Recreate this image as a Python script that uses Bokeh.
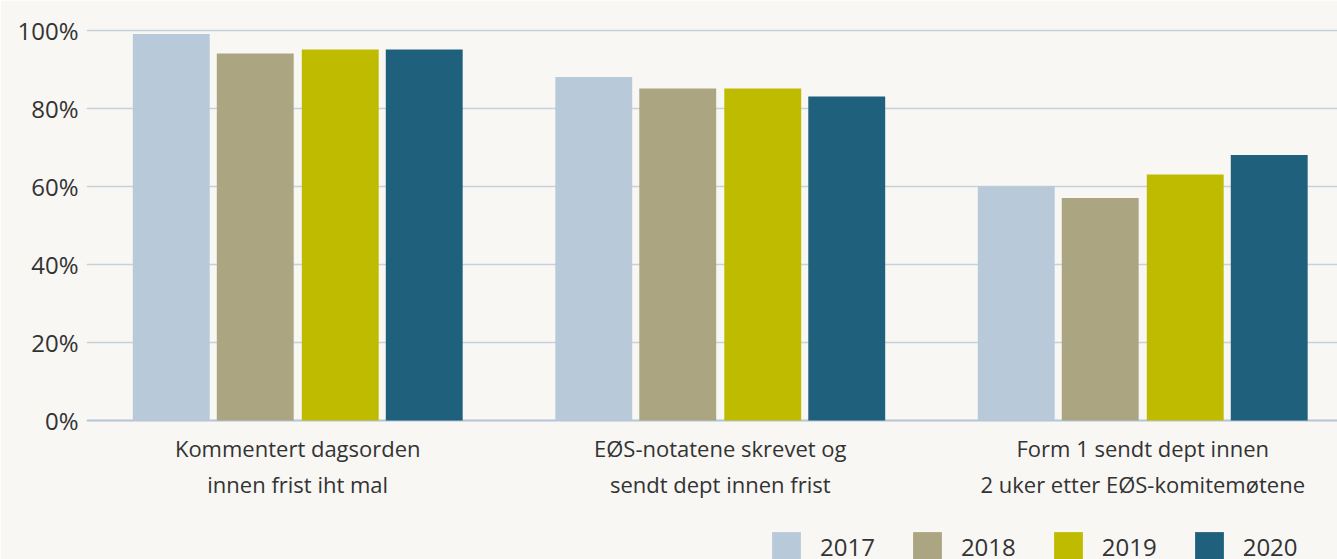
from bokeh.plotting import figure
from bokeh.models import ColumnDataSource, Range1d, FixedTicker, Legend, LegendItem, Span
from bokeh.core.properties import value
from bokeh.transform import dodge
from bokeh.embed import file_html
from bokeh.resources import INLINE

categories = ["Kommentert dagsorden\ninnen frist iht mal",
              "EØS-notatene skrevet og\nsendt dept innen frist",
              "Form 1 sendt dept innen\n2 uker etter EØS-komitemøtene"]
years = ["2017", "2018", "2019", "2020"]
v2017 = [99, 88, 60]
v2018 = [94, 85, 57]
v2019 = [95, 85, 63]
v2020 = [95, 83, 68]
tick_values = [0, 20, 40, 60, 80, 100]

colors = ["#b8c9d9", "#aba582", "#bfbb00", "#1f607c"]
series = [v2017, v2018, v2019, v2020]
offsets = [-0.2994, -0.1006, 0.1006, 0.2994]

FONT = "Open Sans"
TXT = "#333333"
BG = "#f8f7f3"

xs = [i + 0.5 for i in range(len(categories))]
src = ColumnDataSource(dict(x=xs, cat=categories, base=[0] * len(categories),
                            **{"y" + y: s for y, s in zip(years, series)}))

p = figure(frame_width=1251, frame_height=549, output_backend="svg", toolbar_location=None,
           x_range=Range1d(0, 2.961), y_range=Range1d(-35.6, 105),
           min_border_left=86, min_border_right=0, min_border_top=10, min_border_bottom=0)
p.background_fill_color = BG
p.border_fill_color = BG
p.outline_line_color = None

items = []
for y, c, off in zip(years, colors, offsets):
    r = p.vbar(x=dodge("x", off, range=p.x_range), top="y" + y, width=0.182, source=src,
               fill_color=c, line_color=None)
    items.append(LegendItem(label=y, renderers=[r]))

p.add_layout(Span(location=0, dimension="width", line_color="#b3c5d6", line_width=2, level="underlay"))

p.text(x="x", y="base", text="cat", source=src, text_align="center", text_baseline="top",
       y_offset=13, text_font=value(FONT), text_font_size="22px", text_color=TXT,
       text_line_height=1.2)

p.xaxis.visible = False

p.yaxis.ticker = FixedTicker(ticks=tick_values)
p.yaxis.major_label_overrides = {t: f"{t}%" for t in tick_values}
p.yaxis.axis_line_color = None
p.yaxis.major_tick_line_color = None
p.yaxis.minor_tick_line_color = None
p.yaxis.major_tick_out = 0
p.yaxis.major_tick_in = 0
p.yaxis.major_label_standoff = 8
p.yaxis.major_label_text_font = FONT
p.yaxis.major_label_text_font_size = "24px"
p.yaxis.major_label_text_color = TXT

p.xgrid.grid_line_color = None
p.ygrid.ticker = FixedTicker(ticks=tick_values[1:])
p.ygrid.grid_line_color = "#c5d1dd"
p.ygrid.grid_line_width = 1.5

legend = Legend(items=items, orientation="horizontal", location=(682, -5),
                glyph_width=36, glyph_height=36, label_standoff=16, spacing=34,
                label_text_font=FONT, label_text_font_size="24px", label_text_color=TXT,
                background_fill_alpha=0, border_line_color=None, padding=0, margin=0)
p.add_layout(legend, "center")

open("out.html", "w").write(file_html(p, INLINE))
